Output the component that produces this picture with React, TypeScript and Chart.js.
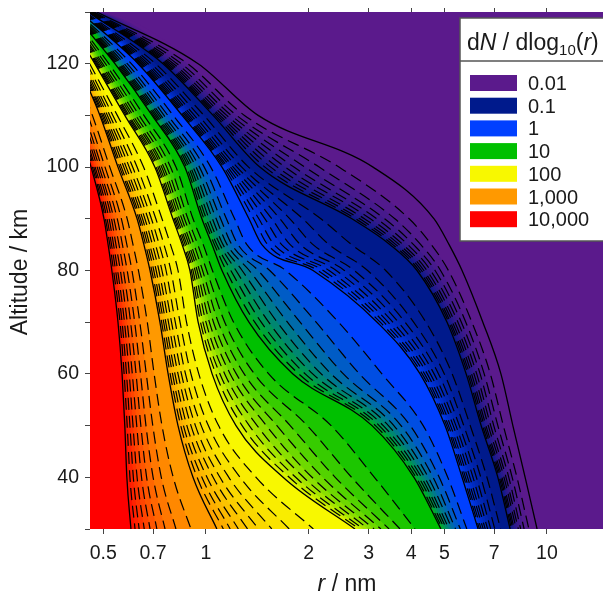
import React, { useEffect, useRef } from "react";
import { Chart, registerables } from "chart.js";

Chart.register(...registerables);

// Altitude (km) of each reading
const altitudes = [30, 40, 50, 60, 70, 80, 85, 90, 100, 110, 120, 130];

// log10(r / nm) x 1000, one value per altitude
const L0_01 = [971, 936, 900, 865, 812, 751, 713, 669, 490, 153, -23, -320];
const L0_02 = [947, 912, 872, 834, 780, 711, 661, 596, 390, 113, -54, -328];
const L0_03 = [933, 898, 856, 816, 762, 688, 630, 554, 332, 90, -72, -332];
const L0_04 = [923, 888, 844, 804, 749, 672, 609, 524, 290, 74, -85, -336];
const L0_05 = [916, 880, 835, 794, 739, 659, 592, 501, 258, 61, -95, -338];
const L0_06 = [910, 874, 828, 786, 730, 648, 578, 482, 232, 50, -103, -340];
const L0_07 = [904, 868, 821, 779, 723, 639, 567, 465, 209, 41, -110, -342];
const L0_08 = [900, 864, 816, 773, 717, 632, 557, 451, 190, 34, -116, -343];
const L0_09 = [896, 860, 811, 768, 712, 625, 548, 439, 173, 27, -121, -345];
const L0_1 = [892, 856, 807, 763, 707, 619, 540, 428, 158, 21, -126, -346];
const L0_2 = [864, 824, 775, 722, 645, 527, 427, 337, 125, -6, -148, -353];
const L0_3 = [847, 806, 756, 699, 609, 474, 361, 284, 105, -22, -161, -357];
const L0_4 = [835, 793, 743, 682, 584, 435, 314, 246, 91, -34, -170, -360];
const L0_5 = [826, 783, 733, 669, 564, 406, 277, 217, 80, -43, -177, -363];
const L0_6 = [819, 774, 725, 658, 548, 382, 247, 193, 72, -50, -183, -365];
const L0_7 = [813, 767, 717, 649, 534, 361, 222, 173, 64, -56, -188, -366];
const L0_8 = [807, 761, 711, 641, 522, 344, 200, 155, 58, -61, -192, -368];
const L0_9 = [802, 756, 706, 634, 511, 328, 181, 140, 52, -66, -196, -369];
const L1 = [798, 751, 701, 628, 502, 314, 164, 126, 47, -70, -199, -370];
const L2 = [765, 709, 637, 516, 389, 234, 120, 84, 14, -96, -219, -377];
const L3 = [746, 684, 599, 450, 323, 187, 94, 60, -5, -112, -231, -381];
const L4 = [732, 666, 572, 403, 276, 153, 76, 43, -19, -123, -240, -384];
const L5 = [722, 652, 551, 367, 239, 127, 62, 30, -29, -132, -247, -386];
const L6 = [713, 641, 535, 338, 209, 106, 50, 19, -38, -138, -252, -388];
const L7 = [706, 632, 520, 313, 184, 88, 41, 9, -45, -144, -256, -389];
const L8 = [700, 624, 508, 291, 162, 73, 32, 1, -51, -149, -260, -391];
const L9 = [694, 616, 497, 272, 143, 59, 25, -6, -57, -154, -264, -392];
const L10 = [689, 610, 487, 255, 126, 47, 18, -12, -62, -158, -267, -393];
const L20 = [613, 494, 367, 184, 81, 19, -8, -38, -88, -182, -285, -399];
const L30 = [569, 427, 297, 142, 55, 2, -24, -53, -104, -196, -295, -403];
const L40 = [537, 379, 247, 112, 36, -10, -35, -63, -115, -206, -303, -406];
const L50 = [513, 342, 208, 89, 22, -19, -44, -71, -124, -214, -308, -408];
const L60 = [493, 311, 177, 71, 10, -26, -50, -78, -130, -220, -313, -409];
const L70 = [476, 286, 150, 55, 0, -32, -56, -84, -136, -226, -317, -411];
const L80 = [461, 263, 127, 41, -9, -38, -61, -89, -141, -230, -320, -412];
const L90 = [449, 244, 106, 29, -16, -43, -66, -93, -146, -234, -323, -413];
const L100 = [437, 226, 88, 18, -23, -47, -70, -97, -150, -238, -326, -414];
const L200 = [315, 147, 37, -21, -57, -82, -104, -129, -183, -260, -341, -420];
const L300 = [244, 100, 7, -44, -76, -103, -123, -147, -202, -273, -349, -424];
const L400 = [193, 67, -14, -60, -90, -117, -137, -160, -215, -282, -355, -426];
const L500 = [154, 41, -31, -72, -101, -129, -148, -170, -225, -289, -360, -428];
const L600 = [122, 21, -44, -82, -110, -138, -157, -179, -234, -295, -364, -430];
const L700 = [95, 3, -56, -91, -118, -146, -165, -186, -241, -300, -367, -431];
const L800 = [71, -12, -66, -98, -124, -153, -171, -192, -248, -304, -370, -432];
const L900 = [51, -26, -74, -105, -130, -159, -177, -197, -253, -308, -373, -433];
const L1000 = [32, -38, -82, -111, -135, -164, -182, -202, -258, -311, -375, -434];
const L2000 = [-44, -96, -129, -152, -172, -198, -214, -231, -282, -333, -391, -445];
const L3000 = [-88, -131, -156, -175, -194, -217, -232, -248, -296, -346, -400, -452];
const L4000 = [-120, -155, -176, -192, -209, -231, -245, -260, -306, -355, -407, -457];
const L5000 = [-144, -174, -191, -205, -221, -242, -255, -270, -313, -362, -412, -461];
const L6000 = [-164, -189, -203, -216, -231, -251, -264, -277, -319, -368, -416, -464];
const L7000 = [-181, -202, -214, -225, -239, -259, -271, -284, -325, -373, -420, -466];
const L8000 = [-196, -213, -223, -233, -246, -265, -277, -290, -329, -377, -423, -468];
const L9000 = [-208, -223, -231, -240, -252, -271, -282, -295, -333, -381, -426, -470];
const L10000 = [-220, -232, -238, -246, -258, -276, -287, -299, -337, -384, -428, -472];

const contourTable = [
  L0_01, L0_02, L0_03, L0_04, L0_05, L0_06, L0_07, L0_08, L0_09,
  L0_1, L0_2, L0_3, L0_4, L0_5, L0_6, L0_7, L0_8, L0_9,
  L1, L2, L3, L4, L5, L6, L7, L8, L9,
  L10, L20, L30, L40, L50, L60, L70, L80, L90,
  L100, L200, L300, L400, L500, L600, L700, L800, L900,
  L1000, L2000, L3000, L4000, L5000, L6000, L7000, L8000, L9000,
  L10000,
];

const legendLabels = ["0.01", "0.1", "1", "10", "100", "1,000", "10,000"];
const legendColors = [
  [91, 26, 140],
  [0, 26, 140],
  [0, 64, 255],
  [0, 192, 0],
  [248, 248, 0],
  [255, 153, 0],
  [255, 0, 0],
];
const radiusTicks = [0.5, 0.7, 1, 2, 3, 4, 5, 7, 10];
const R_MIN = 0.457;
const R_MAX = 14.6;
const FONT = '"Liberation Sans", Arial, sans-serif';

const rgb = (c: number[]) => `rgb(${c.map(Math.round).join(",")})`;

function bandColor(index: number) {
  const decade = Math.floor(index / 9);
  const step = index % 9;
  const a = legendColors[decade];
  const b = legendColors[Math.min(decade + 1, legendColors.length - 1)];
  return rgb(a.map((v, i) => v + ((b[i] - v) * step) / 9));
}

const curve = (logs: number[]) =>
  altitudes.map((alt, i) => ({ x: Math.pow(10, logs[i] / 1000), y: alt })).reverse();

function drawRuns(
  ctx: CanvasRenderingContext2D,
  runs: { t: string; size: number; italic?: boolean; dy?: number }[],
  x: number,
  y: number,
  center = false
) {
  const measure = (r: { t: string; size: number; italic?: boolean }) => {
    ctx.font = `${r.italic ? "italic " : ""}${r.size}px ${FONT}`;
    return ctx.measureText(r.t).width;
  };
  let cx = x;
  if (center) cx -= runs.reduce((s, r) => s + measure(r), 0) / 2;
  for (const r of runs) {
    const w = measure(r);
    ctx.fillText(r.t, cx, y + (r.dy || 0));
    cx += w;
  }
}

const overlay = {
  id: "overlay",
  afterDraw(chart: any) {
    const ctx = chart.ctx as CanvasRenderingContext2D;
    ctx.save();
    ctx.textAlign = "left";
    ctx.textBaseline = "alphabetic";
    ctx.fillStyle = "#1a1a1a";

    drawRuns(ctx, [
      { t: "r", size: 23, italic: true },
      { t: " / nm", size: 23 },
    ], 347, 591, true);

    ctx.save();
    ctx.translate(27, 272);
    ctx.rotate(-Math.PI / 2);
    drawRuns(ctx, [{ t: "Altitude / km", size: 23 }], 0, 0, true);
    ctx.restore();

    ctx.fillStyle = "#ffffff";
    ctx.fillRect(460, 18, 146, 223);
    ctx.strokeStyle = "#555555";
    ctx.lineWidth = 1.5;
    ctx.strokeRect(460, 18, 146, 223);
    ctx.beginPath();
    ctx.moveTo(460, 61);
    ctx.lineTo(603, 61);
    ctx.stroke();

    ctx.fillStyle = "#1a1a1a";
    drawRuns(ctx, [
      { t: "d", size: 23 },
      { t: "N", size: 23, italic: true },
      { t: " / dlog", size: 23 },
      { t: "10", size: 15, dy: 5 },
      { t: "(", size: 23 },
      { t: "r", size: 23, italic: true },
      { t: ")", size: 23 },
    ], 467, 50);

    legendLabels.forEach((label, i) => {
      const top = 75 + i * 22.7;
      ctx.fillStyle = rgb(legendColors[i]);
      ctx.fillRect(470, top, 47, 16);
      ctx.fillStyle = "#1a1a1a";
      ctx.font = `20px ${FONT}`;
      ctx.fillText(label, 528, top + 15);
    });
    ctx.restore();
  },
};

export default function App() {
  const ref = useRef<HTMLCanvasElement>(null);
  useEffect(() => {
    const fills: any[] = [
      {
        data: [
          { x: R_MIN, y: 130 },
          { x: R_MAX, y: 130 },
        ],
        borderWidth: 0,
        pointRadius: 0,
        fill: "start",
        backgroundColor: rgb(legendColors[0]),
        order: 2000,
      },
      ...contourTable.map((logs, i) => ({
        data: [{ x: 0.1, y: 130 }, ...curve(logs)],
        borderWidth: 0,
        pointRadius: 0,
        cubicInterpolationMode: "monotone",
        fill: "start",
        backgroundColor: bandColor(i),
        order: 1000 - i,
      })),
    ];
    const strokes = contourTable.map((logs, i) => ({
      data: curve(logs),
      fill: false,
      pointRadius: 0,
      cubicInterpolationMode: "monotone",
      borderColor: "#000000",
      borderWidth: i % 9 === 0 ? 1.3 : 1.2,
      borderDash: i % 9 === 0 ? [] : [12, 6],
      order: 0,
    }));
    const setTicks = (scale: any) => {
      scale.ticks = radiusTicks.map((value) => ({ value }));
    };
    const chart = new Chart(ref.current!, {
      type: "line",
      data: { datasets: [...fills, ...strokes] as any },
      plugins: [overlay],
      options: {
        animation: false,
        responsive: false,
        layout: { padding: 0 },
        plugins: { legend: { display: false }, tooltip: { enabled: false } },
        scales: {
          x: {
            type: "logarithmic",
            position: "bottom",
            min: R_MIN,
            max: R_MAX,
            afterBuildTicks: setTicks,
            afterFit: (s: any) => {
              s.height = 65;
              s.paddingLeft = 0;
              s.paddingRight = 0;
            },
            border: { display: false },
            grid: { drawOnChartArea: false, tickLength: 5, color: "#444444" },
            ticks: {
              autoSkip: false,
              maxRotation: 0,
              padding: 8,
              color: "#1a1a1a",
              font: { family: FONT, size: 19.5 },
              callback: (v: any) => String(v),
            },
          },
          x2: {
            type: "logarithmic",
            position: "top",
            min: R_MIN,
            max: R_MAX,
            afterBuildTicks: setTicks,
            afterFit: (s: any) => {
              s.height = 12;
              s.paddingLeft = 0;
              s.paddingRight = 0;
            },
            border: { display: false },
            grid: { drawOnChartArea: false, tickLength: 4, color: "#444444" },
            ticks: { display: false },
          },
          y: {
            type: "linear",
            min: 30,
            max: 130,
            afterFit: (s: any) => {
              s.width = 90;
              s.paddingTop = 0;
              s.paddingBottom = 0;
            },
            border: { display: false },
            grid: { drawOnChartArea: false, tickLength: 5, color: "#444444" },
            ticks: {
              stepSize: 10,
              autoSkip: false,
              padding: 6,
              color: "#1a1a1a",
              font: { family: FONT, size: 19.5 },
              callback: (v: any) => (v >= 40 && v <= 120 && v % 20 === 0 ? String(v) : ""),
            },
          },
        },
      } as any,
    });
    return () => chart.destroy();
  }, []);
  return (
    <canvas
      ref={ref}
      width={603}
      height={594}
      style={{ position: "absolute", left: 0, top: 0, display: "block" }}
    />
  );
}
